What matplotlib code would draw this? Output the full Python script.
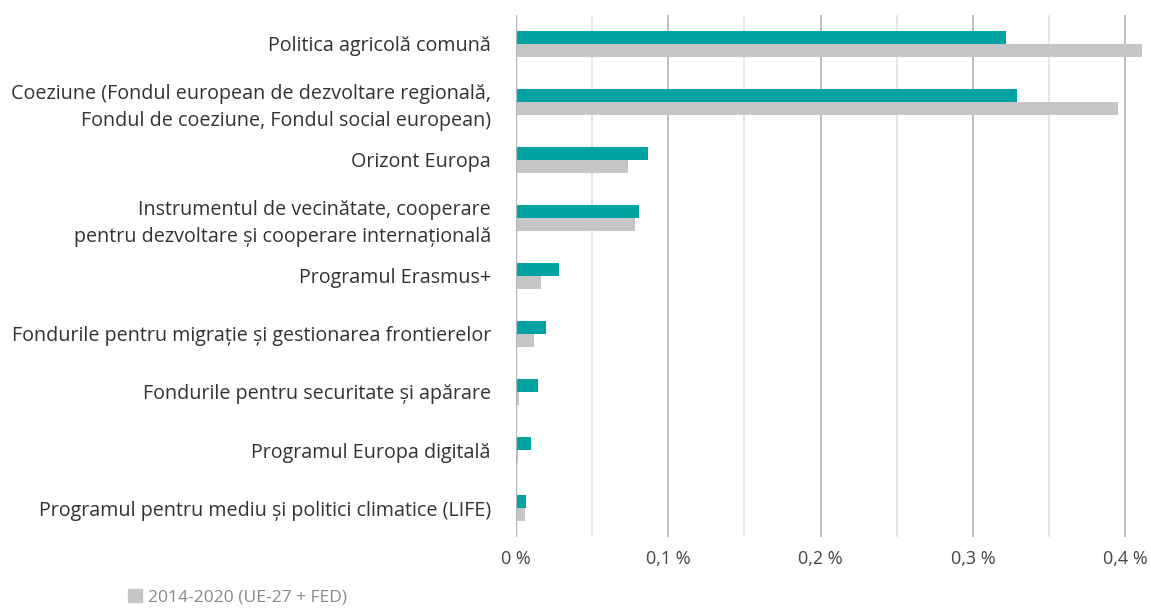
import matplotlib.pyplot as plt
from matplotlib.patches import Patch
import numpy as np

plt.rcParams['font.family'] = ['Open Sans', 'DejaVu Sans']

# programme names (top to bottom)
programe = [
    'Politica agricolă comună',
    'Coeziune (Fondul european de dezvoltare regională,\nFondul de coeziune, Fondul social european)',
    'Orizont Europa',
    'Instrumentul de vecinătate, cooperare\npentru dezvoltare și cooperare internațională',
    'Programul Erasmus+',
    'Fondurile pentru migrație și gestionarea frontierelor',
    'Fondurile pentru securitate și apărare',
    'Programul Europa digitală',
    'Programul pentru mediu și politici climatice (LIFE)',
]
# share of GNI, %
val_2021_2027 = [0.322, 0.329, 0.087, 0.081, 0.028, 0.020, 0.0145, 0.010, 0.0068]
val_2014_2020 = [0.411, 0.395, 0.0735, 0.078, 0.0167, 0.0121, 0.002, 0.0015, 0.0062]
legenda_2014 = '2014-2020 (UE-27 + FED)'

teal = '#00A3A1'
gri = '#C6C6C6'

fig = plt.figure(figsize=(11.51, 6.14), dpi=100)
ax = fig.add_axes([0.4483, 0.1254, 0.9974 - 0.4483, 0.9756 - 0.1254])

y = np.arange(len(programe))
h = 0.224
ax.barh(y - h / 2, val_2021_2027, height=h, color=teal, zorder=3)
ax.barh(y + h / 2, val_2014_2020, height=h, color=gri, zorder=3)

ax.set_ylim(len(programe) - 0.5, -0.5)
ax.set_xlim(0, 0.415)

# grid: darker at 0.1, lighter at 0.05
for xv in np.arange(0.05, 0.41, 0.1):
    ax.axvline(xv, color='#e2e2e2', lw=1.2, zorder=1)
for xv in np.arange(0.1, 0.41, 0.1):
    ax.axvline(xv, color='#b4b4b4', lw=1.2, zorder=1)
ax.axvline(0, color='#b4b4b4', lw=1.6, zorder=4)

for s in ax.spines.values():
    s.set_visible(False)

ax.set_xticks([0, 0.1, 0.2, 0.3, 0.4])
ax.set_xticklabels(['0 %', '0,1 %', '0,2 %', '0,3 %', '0,4 %'])
ax.tick_params(axis='x', length=0, pad=9, labelsize=13, labelcolor='#444444')
ax.set_yticks(y)
ax.set_yticklabels(programe, linespacing=1.45)
ax.tick_params(axis='y', length=0, pad=18, labelsize=14.2, labelcolor='#333333')
for lbl in ax.get_yticklabels():
    lbl.set_horizontalalignment('right')

fig.legend(handles=[Patch(color=gri, label=legenda_2014)],
           loc='lower left', bbox_to_anchor=(0.098, -0.012),
           frameon=False, fontsize=12.5, labelcolor='#888888',
           handlelength=0.8, handleheight=0.8, handletextpad=0.3)

fig.savefig('out.png', dpi=100)
